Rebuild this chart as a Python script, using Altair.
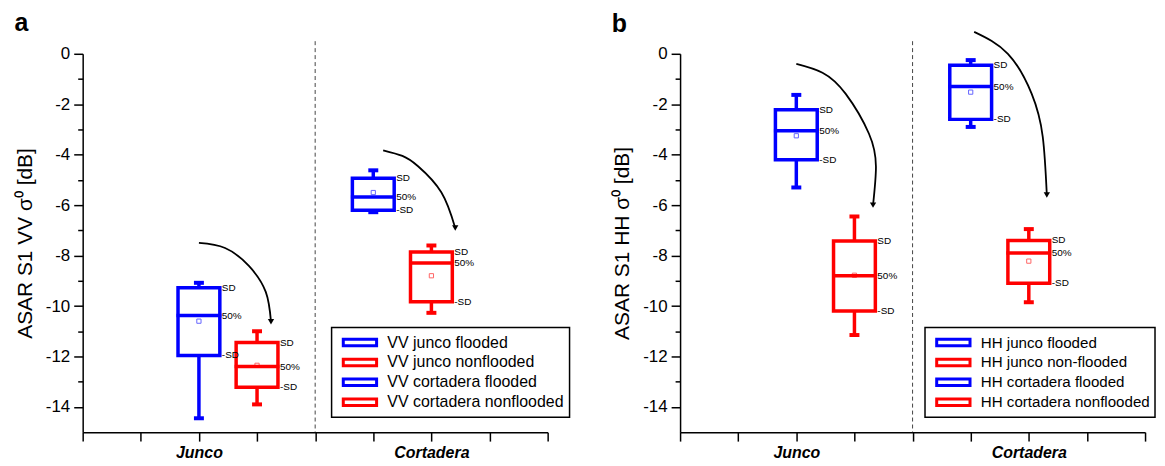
import altair as alt
import pandas as pd

# ---------------- data ----------------
positions = [2, 3, 5, 6]
categories = ["Junco", "Cortadera"]
category_positions = [2, 6]
divider = 4
colors = ["#0000ff", "#ff0000", "#0000ff", "#ff0000"]

a_series = ["VV junco flooded", "VV junco nonflooded", "VV cortadera flooded", "VV cortadera nonflooded"]
a_whisk_hi = [-9.08, -11.0, -4.62, -7.6]
a_box_hi = [-9.28, -11.45, -4.93, -7.86]
a_median = [-10.38, -12.4, -5.68, -8.29]
a_box_lo = [-11.96, -13.22, -6.2, -9.83]
a_whisk_lo = [-14.45, -13.9, -6.28, -10.27]
a_mean = [-10.6, -12.35, -5.5, -8.8]

b_series = ["HH junco flooded", "HH junco non-flooded", "HH cortadera flooded", "HH cortadera nonflooded"]
b_whisk_hi = [-1.63, -6.45, -0.25, -6.95]
b_box_hi = [-2.22, -7.42, -0.45, -7.4]
b_median = [-3.05, -8.8, -1.3, -7.9]
b_box_lo = [-4.2, -10.2, -2.6, -9.1]
b_whisk_lo = [-5.3, -11.15, -2.9, -9.85]
b_mean = [-3.25, -8.78, -1.52, -8.22]

# annotation arrows (waypoints)
a_arrow1_x = [2.0, 2.45, 2.86, 3.15, 3.24]
a_arrow1_y = [-7.5, -7.7, -8.41, -9.44, -10.62]
a_arrow2_x = [5.17, 5.5, 5.77, 6.17, 6.41]
a_arrow2_y = [-3.83, -4.05, -4.46, -5.49, -6.91]
b_arrow1_x = [2.0, 2.45, 2.85, 3.25, 3.37, 3.32]
b_arrow1_y = [-0.4, -0.75, -1.59, -3.17, -4.48, -6.0]
b_arrow2_x = [5.06, 5.64, 6.05, 6.24, 6.31]
b_arrow2_y = [0.87, 0.0, -1.59, -3.29, -5.6]

stat_labels = ["SD", "50%", "-SD"]

# ---------------- helpers ----------------
FONT = "Liberation Sans"
label_expr = " : ".join(
    f"datum.value == {p} ? '{c}'" for p, c in zip(category_positions, categories)
) + " : ''"


def X(field):
    return alt.X(
        field,
        type="quantitative",
        scale=alt.Scale(domain=[0, 8], nice=False, zero=False, padding=0),
        axis=alt.Axis(
            values=list(range(0, 9)),
            labelExpr=label_expr,
            title=None,
            grid=False,
            tickSize=9,
            tickWidth=1.5,
            tickColor="black",
            domainColor="black",
            domainWidth=1.5,
            labelFontSize=16,
            labelFontWeight="bold",
            labelFontStyle="italic",
            labelColor="black",
            labelPadding=3,
            labelFlush=False,
            labelOverlap=False,
        ),
    )


def Y(field, title):
    return alt.Y(
        field,
        type="quantitative",
        scale=alt.Scale(domain=[-15, 0], nice=False, zero=False, padding=0),
        axis=alt.Axis(
            values=list(range(-14, 1)),
            labelExpr="datum.value % 2 == 0 ? '' + datum.value : ''",
            title=title,
            titleFontSize=21,
            titleFontWeight="normal",
            titleColor="black",
            titlePadding=10,
            grid=False,
            tickSize={"condition": {"test": "datum.value % 2 == 0", "value": 9}, "value": 5},
            tickWidth=1.5,
            tickColor="black",
            domainColor="black",
            domainWidth=1.5,
            labelFontSize=17,
            labelColor="black",
            labelPadding=4,
            labelOverlap=False,
        ),
    )


def panel(letter, ytitle, series, wh, bh, med, bl, wl, mean, arrows, title_offset, legend_x, legend_font):
    df = pd.DataFrame({
        "pos": positions, "series": series, "hex": colors, "wh": wh, "bh": bh,
        "med": med, "bl": bl, "wl": wl, "mean": mean,
    })
    rows = []
    for i in range(len(positions)):
        for lab, col in zip(stat_labels, ["bh", "med", "bl"]):
            rows.append({"pos": positions[i], "val": df[col][i], "lab": lab})
    df_lab = pd.DataFrame(rows)

    arow = []
    heads = []
    for k, (ax, ay) in enumerate(arrows):
        for j, (xx, yy) in enumerate(zip(ax, ay)):
            arow.append({"id": k, "ord": j, "x": xx, "y": yy})
        heads.append({"x": ax[-1], "y": ay[-1]})
    df_arrow = pd.DataFrame(arow)
    df_head = pd.DataFrame(heads)
    df_div = pd.DataFrame({"x": [divider], "top": [0.5], "bottom": [-15]})

    col_fixed = alt.Color("hex:N", scale=None)
    col_legend = alt.Color(
        "series:N",
        scale=alt.Scale(domain=series, range=colors),
        legend=alt.Legend(
            title=None, orient="none", legendX=legend_x, legendY=275,
            symbolType="M-0.39,-0.39L3.61,-0.39L3.61,0.39L-0.39,0.39Z",
            symbolSize=280, symbolStrokeWidth=3,
            labelFontSize=legend_font, labelColor="black", labelOffset=31, labelLimit=0,
            rowPadding=0, padding=5, strokeColor="black",
        ),
    )

    base = alt.Chart(df)
    divline = alt.Chart(df_div).mark_rule(color="#444", strokeWidth=1, strokeDash=[4, 3]).encode(
        x=X("x"), y=Y("top", ytitle), y2="bottom")
    box = base.mark_bar(filled=False, size=42, strokeWidth=3.5, opacity=1).encode(
        x=X("pos"), y=Y("bl", ytitle), y2="bh", color=col_legend)
    wh_rule = base.mark_rule(strokeWidth=3.5).encode(x=X("pos"), y=Y("bh", ytitle), y2="wh", color=col_fixed)
    wl_rule = base.mark_rule(strokeWidth=3.5).encode(x=X("pos"), y=Y("bl", ytitle), y2="wl", color=col_fixed)
    cap_hi = base.mark_tick(orient="horizontal", size=10, thickness=4, opacity=1).encode(
        x=X("pos"), y=Y("wh", ytitle), color=col_fixed)
    cap_lo = base.mark_tick(orient="horizontal", size=10, thickness=4, opacity=1).encode(
        x=X("pos"), y=Y("wl", ytitle), color=col_fixed)
    medl = base.mark_tick(orient="horizontal", size=45, thickness=3.5, opacity=1).encode(
        x=X("pos"), y=Y("med", ytitle), color=col_fixed)
    meanp = base.mark_point(shape="square", size=18, filled=False, strokeWidth=1, opacity=0.6).encode(
        x=X("pos"), y=Y("mean", ytitle), color=col_fixed)
    labels = alt.Chart(df_lab).mark_text(align="left", baseline="middle", dx=23, fontSize=10, color="black").encode(
        x=X("pos"), y=Y("val", ytitle), text="lab:N")
    arrow = alt.Chart(df_arrow).mark_line(interpolate="natural", color="black", strokeWidth=1.8).encode(
        x=X("x"), y=Y("y", ytitle), detail="id:N", order="ord:Q")
    head = alt.Chart(df_head).mark_point(shape="triangle-down", filled=True, size=40, color="black", opacity=1).encode(
        x=X("x"), y=Y("y", ytitle))

    return alt.layer(divline, box, wh_rule, wl_rule, cap_hi, cap_lo, medl, meanp, labels, arrow, head).properties(
        width=467, height=380,
        title=alt.TitleParams(letter, anchor="start", fontSize=25, fontWeight="bold", color="black",
                              offset=title_offset, frame="bounds"),
    )


pa = panel("a", "ASAR S1 VV σ⁰ [dB]", a_series, a_whisk_hi, a_box_hi, a_median, a_box_lo, a_whisk_lo, a_mean,
           [(a_arrow1_x, a_arrow1_y), (a_arrow2_x, a_arrow2_y)], 5, 250, 16)
pb = panel("b", "ASAR S1 HH σ⁰ [dB]", b_series, b_whisk_hi, b_box_hi, b_median, b_box_lo, b_whisk_lo, b_mean,
           [(b_arrow1_x, b_arrow1_y), (b_arrow2_x, b_arrow2_y)], -9, 246, 15.2)

chart = (
    alt.hconcat(pa, pb, spacing=133, bounds="flush")
    .resolve_scale(color="independent")
    .resolve_legend(color="independent")
    .configure(font=FONT)
    .configure_view(stroke="transparent")
    .configure_legend(strokeWidth=1.5)
    .properties(padding={"left": 5, "top": 1, "right": 0, "bottom": 0})
)

chart.save("out.html", embed_options={"renderer": "svg", "actions": False})
